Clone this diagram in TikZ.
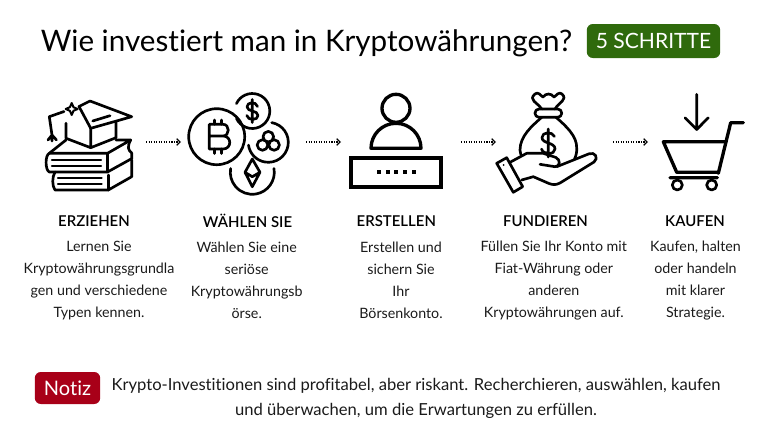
\documentclass[tikz,border=0pt]{standalone}
\usepackage{fontspec}
\setmainfont[BoldFont={Lato Semibold},Ligatures=NoCommon]{Lato}
\usetikzlibrary{positioning,arrows.meta}
\definecolor{badgegreen}{HTML}{2F6A0C}
\definecolor{badgered}{HTML}{A80018}
\definecolor{inktext}{HTML}{1A1A1A}

\tikzset{
  iconbox/.style={inner sep=0pt,outer sep=0pt,minimum height=45pt},
  flowarrow/.style={-{Straight Barb[length=2.6pt,width=5pt,line width=0.9pt]},densely dotted,line width=0.9pt,black},
  icon/.style={draw=black,line width=2pt,line join=round,line cap=round},
  steptitle/.style={font=\fontsize{11.2}{13}\selectfont\bfseries,text=black},
  stepbody/.style={font=\fontsize{10.7}{16.5}\selectfont,align=center,text=inktext},
  badge/.style={rounded corners=4.5pt,text=white,inner sep=0pt}
}

\begin{document}
\begin{tikzpicture}[x=0.75pt,y=0.75pt,node distance=59.5pt,on grid]
        \useasboundingbox (0,0) rectangle (768,-432);
        \node[font=\fontsize{22.2}{28}\selectfont,text=black] (title) at (306.5,-43.5) {Wie investiert man in Kryptowährungen?};
        \node[badge,fill=badgegreen,minimum width=100pt,minimum height=25.5pt,font=\fontsize{15.8}{18}\selectfont] (steps) at (653.5,-41) {5 SCHRITTE};

        \node[iconbox,minimum width=78pt] (icon_a) at (94,-142) {};
        \node[iconbox,minimum width=93.75pt] (icon_b) at (243.5,-142) {};
        \node[iconbox,minimum width=90pt] (icon_c) at (401,-142) {};
        \node[iconbox,minimum width=87.75pt] (icon_d) at (554.5,-142) {};
        \node[iconbox,minimum width=70.5pt] (icon_e) at (695,-142) {};

        \draw[flowarrow] (icon_a) -- (icon_b);
        \draw[flowarrow] (icon_b) -- (icon_c);
        \draw[flowarrow] (icon_c) -- (icon_d);
        \draw[flowarrow] (icon_d) -- (icon_e);

        % books and cap
        \draw[icon] (49.3,-116.7) -- (64,-111.5) (79,-106.5) -- (90,-101) -- (131.7,-116.7) -- (90.7,-128.3) -- cycle;
        \draw[icon,line width=1.5pt] (71.7,-103) -- (73.5,-107.2) -- (77.7,-109) -- (73.5,-110.8) -- (71.7,-115) -- (69.9,-110.8) -- (65.7,-109) -- (69.9,-107.2) -- cycle;
        \draw[icon] (66,-123.3) -- (66,-138.3) -- (90.7,-147.7) -- (116,-137.7) -- (116,-121.7) (90.7,-128.3) -- (90.7,-147.7);
        \draw[icon] (92.7,-121) -- (110,-115.7);
        \draw[icon] (49.3,-116.7) -- (52,-135) (48,-140) -- (52,-135) -- (56.5,-140) (52,-135) -- (52,-141);
        \draw[icon] (66,-140) -- (49.3,-153.3) .. controls (45,-155) and (45,-170) .. (49.3,-172) -- (107.5,-172);
        \draw[icon] (49.3,-153.3) -- (107.5,-153.3) -- (130.7,-140) -- (116,-140);
        \draw[icon] (107.5,-153.3) -- (107.5,-172) -- (131,-159) (130.7,-140) .. controls (127,-147) and (128,-150) .. (131.7,-153) -- (131.7,-159);
        \draw[icon,line width=1.6pt] (52,-160) -- (101,-160) (52,-166) -- (101,-166);
        \draw[icon] (55,-172) .. controls (52,-177) and (52,-186) .. (55,-190) -- (108.3,-190) -- (131.7,-176.7) -- (131.7,-160);
        \draw[icon] (108.3,-175) -- (108.3,-190);
        \draw[icon,line width=1.6pt] (58,-178.3) -- (101.7,-178.3) (58,-184.3) -- (101.7,-184.3);

        % coins
        \draw[icon] (216.7,-136.7) circle (28);
        \draw[icon] (209.3,-124.3) -- (209.3,-149) -- (223,-149) .. controls (232,-149) and (232,-136) .. (223,-136) -- (209.3,-136) (223,-136) .. controls (230,-136) and (230,-124.3) .. (223,-124.3) -- (209.3,-124.3);
        \draw[icon] (214.5,-124.3) -- (214.5,-120) (221.7,-124.3) -- (221.7,-120) (214.5,-149) -- (214.5,-153.5) (221.7,-149) -- (221.7,-153.5);
        \draw[icon] (252.3,-111) ++(-155:17.5) arc[start angle=-155,end angle=155,radius=17.5];
        \draw[icon] (257.5,-106.5) .. controls (256,-101) and (247,-102) .. (247,-106.8) .. controls (247,-112) and (258,-110) .. (258,-115.5) .. controls (258,-120.5) and (248,-121) .. (246.8,-115.5) (252.3,-99.5) -- (252.3,-122.5);
        \draw[icon] (268.3,-142.3) ++(80:20) arc[start angle=80,end angle=-172,radius=20];
        \draw[icon] (268.3,-136.7) circle (5.3) (262.5,-145) circle (5.3) (274.1,-145) circle (5.3);
        \draw[icon] (252.3,-172.3) ++(10:22) arc[start angle=10,end angle=-190,radius=22];
        \draw[icon] (252.3,-159) -- (245,-172.3) -- (252.3,-186.7) -- (260,-172.3) -- cycle (245,-172.3) -- (252.3,-176.7) -- (260,-172.3);

        % account
        \draw[icon,line width=2.5pt] (396,-108.3) circle (14);
        \draw[icon,line width=2.5pt] (371,-148.3) arc[start angle=180,end angle=0,radius=25] -- cycle;
        \draw[icon,line width=3pt,line cap=butt,line join=miter] (351.3,-158) rectangle (441.3,-187);
        \foreach \dotx in {379,387.7,396,405,414}
          \fill[black] (\dotx-2,-170.3) rectangle (\dotx+2,-174.3);

        % money bag and hand
        \draw[icon] (541.7,-109) .. controls (537,-102) and (528,-100) .. (535,-94) .. controls (538,-91) and (541,-96) .. (543,-97) .. controls (546,-93) and (551,-93) .. (554,-97) .. controls (556,-96) and (559,-91) .. (562,-94) .. controls (568,-100) and (559,-102) .. (555,-109);
        \draw[icon,rounded corners=3pt] (535,-109) rectangle (561.7,-117.3);
        \draw[icon] (541.7,-117.3) .. controls (532,-126) and (520,-136) .. (520,-150) .. controls (520,-152) and (521,-154) .. (521,-155);
        \draw[icon] (556,-117.3) .. controls (566,-126) and (577,-136) .. (576.7,-148) .. controls (577,-152) and (576,-156) .. (574.5,-159);
        \draw[icon] (554.5,-136.5) .. controls (552,-131) and (542,-132) .. (542,-137.5) .. controls (542,-144) and (555,-142) .. (555,-149) .. controls (555,-155) and (543,-155) .. (541.5,-149) (548.3,-129) -- (548.3,-157);
        \draw[icon] (496.7,-163.3) -- (506.7,-157.7) -- (522.7,-186.7) -- (513.3,-192.3) -- cycle;
        \draw[icon] (510,-162.3) -- (526.7,-153.3) -- (543.3,-153.3) -- (556,-157.5) .. controls (561,-160) and (560,-166.7) .. (555,-166.7) -- (540,-164.3);
        \draw[icon] (556.7,-166.7) -- (589,-153.8) .. controls (595,-151.5) and (599,-158) .. (594,-162) -- (560,-183) .. controls (556,-185) and (553,-185) .. (549,-183.5) -- (533.3,-176.7) -- (521.7,-180);
        \fill[black] (503.5,-165) circle (1);

        % cart
        \draw[icon] (696.7,-94.3) -- (696.7,-128.3) (685,-117.7) -- (696.7,-129.5) -- (708.3,-117.7);
        \draw[icon,line width=2.5pt] (743.3,-122.7) -- (730.7,-122.7) -- (718.3,-173.3);
        \draw[icon,line width=2.5pt] (663.3,-141.7) -- (725,-141.7) (663.3,-141.7) -- (676.7,-172.3) -- (718.3,-172.3) (670,-177.7) -- (717.3,-177.7);
        \draw[icon] (677.3,-185) circle (5) (711.7,-185) circle (5);

        \node[steptitle] (erziehen) [below=of icon_a] {ERZIEHEN};
        \node[steptitle] (waehlen) [below=of icon_b,xshift=3pt] {WÄHLEN SIE};
        \node[steptitle] (erstellen) [below=of icon_c,xshift=-3.5pt] {ERSTELLEN};
        \node[steptitle] (fundieren) [below=of icon_d,xshift=-6.75pt] {FUNDIEREN};
        \node[steptitle] (kaufen) [below=of icon_e] {KAUFEN};

        \node[stepbody] (text_a) [below=104pt of icon_a,xshift=3.75pt] {Lernen Sie\\Kryptowährungsgrundla\\gen und verschiedene\\Typen kennen.};
        \node[stepbody] (text_b) [below=104pt of icon_b,xshift=2.4pt] {Wählen Sie eine\\seriöse\\Kryptowährungsb\\örse.};
        \node[stepbody] (text_c) [below=104pt of icon_c] {Erstellen und\\sichern Sie\\Ihr\\Börsenkonto.};
        \node[stepbody] (text_d) [below=104pt of icon_d,xshift=-0.5pt] {Füllen Sie Ihr Konto mit\\Fiat-Währung oder\\anderen\\Kryptowährungen auf.};
        \node[stepbody] (text_e) [below=104pt of icon_e,xshift=0.4pt] {Kaufen, halten\\oder handeln\\mit klarer\\Strategie.};

        \node[badge,fill=badgered,minimum width=49pt,minimum height=24pt,font=\fontsize{15}{16}\selectfont] (notiz) at (67.5,-388) {Notiz};
        \node[font=\fontsize{12.45}{18.5}\selectfont,align=center,text=inktext] (note) at (416,-398.5) {Krypto-Investitionen sind profitabel, aber riskant. Recherchieren, auswählen, kaufen\\und überwachen, um die Erwartungen zu erfüllen.};
    \end{tikzpicture}
\end{document}
